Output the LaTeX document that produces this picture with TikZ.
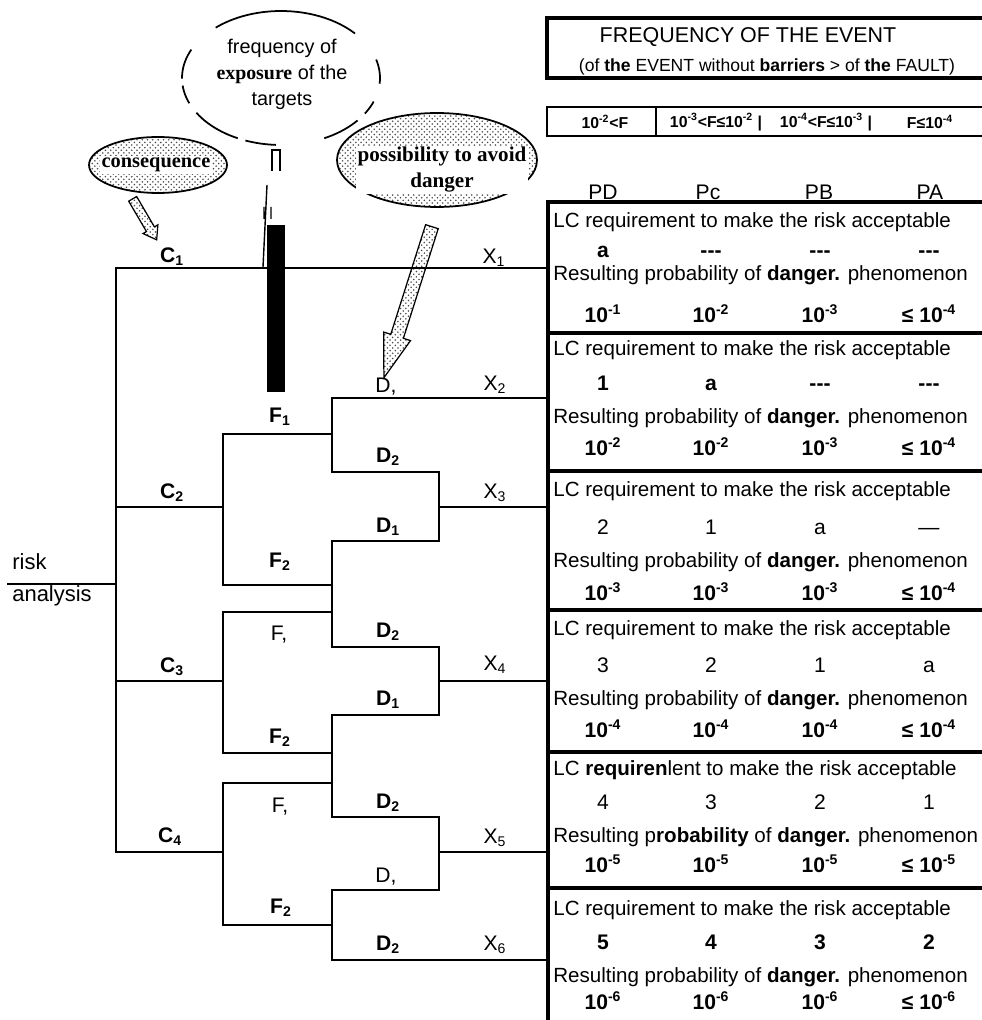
\documentclass[tikz,border=0pt]{standalone}
\usepackage{fontspec}
\setmainfont{Liberation Sans}
\newfontfamily\bubblefont{Liberation Serif}
\usetikzlibrary{arrows.meta,positioning,shapes.geometric,shapes.arrows,patterns,calc}

\newcommand\pw[1]{\textbf{10\textsuperscript{-#1}}}
\newcommand\lepw[1]{\textbf{≤ 10\textsuperscript{-#1}}}
\newcommand\dd{\textbf{-{}-{}-}}
\newcommand\valrow[6]{%
  \node[val] (#1a) at (603,#2) {#3}; \node[val] (#1b) at (711,#2) {#4};
  \node[val] (#1c) at (820,#2) {#5}; \node[val] (#1d) at (929,#2) {#6};}

\tikzset{
  branch/.style={line width=1.4pt, line cap=rect},
  tag/.style={font=\fontsize{12}{14}\selectfont\bfseries, inner sep=0pt},
  plaintag/.style={font=\fontsize{12}{14}\selectfont, inner sep=0pt},
  cell/.style={font=\fontsize{11.7}{14}\selectfont, inner sep=0pt, anchor=west},
  val/.style={font=\fontsize{12}{14}\selectfont, inner sep=0pt, text height=8.6pt, text depth=0pt},
  band/.style={font=\fontsize{9}{11}\selectfont\bfseries, inner sep=0pt},
  rule/.style={line width=1.8pt},
  stipple/.style={pattern=crosshatch dots, pattern color=black!70},
  fatarrow/.style={single arrow, draw, line width=0.7pt, stipple, inner xsep=0pt, sloped, allow upside down},
}

\begin{document}
\begin{tikzpicture}[x=0.02cm, y=-0.02cm]
  \useasboundingbox (0,0) rectangle (982,1020);

  % bubbles
  \draw[line width=1pt, dash pattern=on 10.8pt off 19.3pt on 83.6pt off 18.8pt on 17.6pt off 4pt on 10.8pt off 6.8pt on 27.9pt off 4.6pt on 17.6pt off 27.9pt on 21.6pt off 5.7pt on 8.5pt off 10.8pt]
    (281,78) ellipse [x radius=1.98cm, y radius=1.34cm];
  \node[align=center, inner sep=0pt, font=\fontsize{11.3}{14.8}\selectfont] (freq) at (282,74)
    {frequency of\\{\bubblefont\bfseries exposure} of the\\targets};
  \draw[line width=1pt, stipple] (158,165) ellipse [x radius=1.38cm, y radius=0.56cm];
  \node[fill=white, inner sep=1pt, font=\bubblefont\bfseries\fontsize{11.6}{14}\selectfont] (cons) at (156,165) {consequence};
  \draw[line width=1pt, stipple] (437,160) ellipse [x radius=2cm, y radius=0.94cm];
  \node[fill=white, inner sep=1pt, align=center, font=\bubblefont\bfseries\fontsize{12}{14.8}\selectfont] (poss) at (442,170) {possibility to avoid\\danger};

  \coordinate (ca) at (131,196); \coordinate (cb) at (155,237);
  \path (ca) -- node[fatarrow, minimum height=0.95cm, inner ysep=0.08cm, single arrow head extend=0.08cm, single arrow tip angle=70] (carrow) {} (cb);
  \coordinate (pa) at (435,217); \coordinate (pb) at (387,368);
  \path (pa) -- node[fatarrow, minimum height=3.17cm, inner ysep=0.12cm, single arrow head extend=0.15cm, single arrow tip angle=36] (parrow) {} (pb);

  % exposure bar
  \fill (267,225) rectangle (285,392);
  \draw[line width=0.8pt] (272,171) -- (272,150) -- (280,150) -- (280,171);
  \draw[line width=0.8pt] (267,185) -- (263,267) (264,207) -- (264,219) (271,207) -- (271,219);

  % tree
  \coordinate (root) at (8,584);
  \coordinate (tabL) at (548,202);
  \foreach \n/\y in {1/268,2/507,3/681,4/852} \coordinate (C\n) at (116,\y);
  \draw[branch] (root) -- (C1 |- root);
  \draw[branch] (C1) -- (C4);
  \draw[branch] (C1) -- (C1 -| tabL);
  \foreach \k/\y/\a/\b in {2/507/434/585,3/681/612/753,4/852/783/925}{
    \coordinate (F\k) at (223,\y);
    \draw[branch] (C\k) -- (F\k) (332,\a) -| (F\k) |- (332,\b);
  }
  \foreach \k/\a/\b in {A/398/472,B/541/647,C/715/817,D/890/960}{
    \coordinate (D\k1) at (332,\a); \coordinate (D\k2) at (332,\b);
    \draw[branch] (D\k1) -- (D\k2);
  }
  \foreach \n/\y in {3/507,4/681,5/852} \coordinate (X\n) at (439,\y);
  \draw[branch] (DA2) -| (X3) |- (DB1) (DB2) -| (X4) |- (DC1) (DC2) -| (X5) |- (DD1);
  \foreach \n in {3,4,5} \draw[branch] (X\n) -- (X\n -| tabL);
  \draw[branch] (DA1) -- (DA1 -| tabL) (DD2) -- (DD2 -| tabL);

  \node[plaintag, font=\fontsize{12.5}{14}\selectfont, anchor=west] (risk) at (12,562) {risk};
  \node[plaintag, font=\fontsize{12.5}{14}\selectfont, anchor=west] (analysis) at (12,596) {analysis};
  \foreach \t/\x/\y [count=\i] in {C\textsubscript{1}/172/257, C\textsubscript{2}/172/493, C\textsubscript{3}/172/667, C\textsubscript{4}/170/837,
      F\textsubscript{1}/280/417, F\textsubscript{2}/280/562, F\textsubscript{2}/280/738, F\textsubscript{2}/281/908,
      D\textsubscript{2}/388/457, D\textsubscript{1}/388/527, D\textsubscript{2}/388/632, D\textsubscript{1}/388/700, D\textsubscript{2}/388/803, D\textsubscript{2}/388/945}
    \node[tag] (lb\i) at (\x,\y) {\t};
  \foreach \t/\x/\y [count=\i] in {{F,}/279/635, {F,}/280/807, {D,}/386/387, {D,}/386/877,
      X\textsubscript{1}/494/258, X\textsubscript{2}/495/385, X\textsubscript{3}/495/493, X\textsubscript{4}/495/665, X\textsubscript{5}/495/838, X\textsubscript{6}/495/945}
    \node[plaintag] (lp\i) at (\x,\y) {\t};

  % frequency boxes
  \draw[rule] (985,18) -- (547,18) -- (547,78) -- (985,78);
  \node[inner sep=0pt, font=\fontsize{12.2}{14}\selectfont] (evt) at (748,37) {FREQUENCY OF THE EVENT};
  \node[inner sep=0pt, font=\fontsize{10}{12}\selectfont] (evtsub) at (767,67) {(of \textbf{the} EVENT without \textbf{barriers} > of \textbf{the} FAULT)};
  \draw[rule, line width=1.4pt] (985,107) -- (547,107) -- (547,136) -- (985,136) (656,107) -- (656,136);
  \node[band] (fr1) at (605,122) {10\textsuperscript{-2}<F};
  \node[band] (fr2) at (716,122) {10\textsuperscript{-3}<F≤10\textsuperscript{-2} |};
  \node[band] (fr3) at (826,122) {10\textsuperscript{-4}<F≤10\textsuperscript{-3} |};
  \node[band] (fr4) at (930,122) {F≤10\textsuperscript{-4}};
  \foreach \t/\x in {PD/603, Pc/708, PB/819, PA/930} \node[val] (h\t) at (\x,192) {\t};

  % table
  \draw[rule, line width=2.3pt] (985,202) -- (548,202) -- (548,1022);
  \foreach \y in {333,471,610,752,888} \draw[rule] (548,\y) -- (985,\y);
  \foreach \s/\y in {1/222,2/350,3/491,4/630,6/910}
    \node[cell] (lc\s) at (553,\y) {LC requirement to make the risk acceptable};
  \node[cell] (lc5) at (553,770) {LC \textbf{requiren}lent to make the risk acceptable};
  \foreach \s/\y in {1/275,2/418,3/562,4/700,6/977}
    \node[cell] (res\s) at (553,\y) {Resulting probability of \textbf{danger.} phenomenon};
  \node[cell] (res5) at (553,837) {Resulting p\textbf{robability} of \textbf{danger.} phenomenon};
  \valrow{q1}{250}{\textbf{a}}{\dd}{\dd}{\dd}
  \valrow{p1}{315}{\pw1}{\pw2}{\pw3}{\lepw4}
  \valrow{q2}{383}{\textbf{1}}{\textbf{a}}{\dd}{\dd}
  \valrow{p2}{448}{\pw2}{\pw2}{\pw3}{\lepw4}
  \valrow{q3}{527}{2}{1}{a}{---}
  \valrow{p3}{593}{\pw3}{\pw3}{\pw3}{\lepw4}
  \valrow{q4}{665}{3}{2}{1}{a}
  \valrow{p4}{730}{\pw4}{\pw4}{\pw4}{\lepw4}
  \valrow{q5}{802}{4}{3}{2}{1}
  \valrow{p5}{865}{\pw5}{\pw5}{\pw5}{\lepw5}
  \valrow{q6}{942}{\textbf{5}}{\textbf{4}}{\textbf{3}}{\textbf{2}}
  \valrow{p6}{1002}{\pw6}{\pw6}{\pw6}{\lepw6}
\end{tikzpicture}
\end{document}
